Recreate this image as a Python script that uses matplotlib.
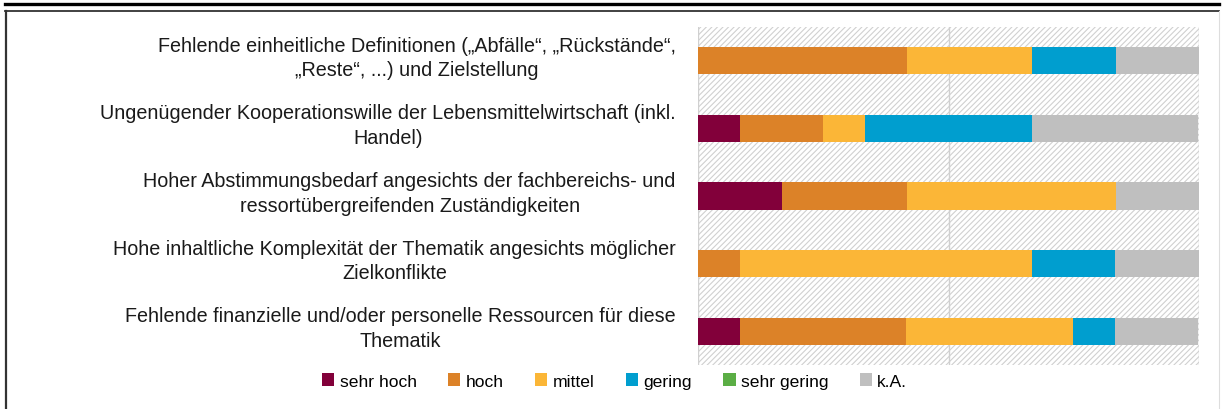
import matplotlib
matplotlib.use("Agg")
import matplotlib.pyplot as plt
import matplotlib.transforms as mtransforms
from matplotlib.lines import Line2D
from matplotlib.patches import Rectangle, Patch
import numpy as np

plt.rcParams["font.family"] = ["Liberation Sans", "DejaVu Sans"]
plt.rcParams["hatch.linewidth"] = 0.8

CATEGORIES = [
    "Fehlende einheitliche Definitionen (\u201eAbfälle\u201c, \u201eRückstände\u201c,\n\u201eReste\u201c, ...) und Zielstellung",
    "Ungenügender Kooperationswille der Lebensmittelwirtschaft (inkl.\nHandel)",
    "Hoher Abstimmungsbedarf angesichts der fachbereichs- und\nressortübergreifenden Zuständigkeiten",
    "Hohe inhaltliche Komplexität der Thematik angesichts möglicher\nZielkonflikte",
    "Fehlende finanzielle und/oder personelle Ressourcen für diese\nThematik",
]
SERIES = ["sehr hoch", "hoch", "mittel", "gering", "sehr gering", "k.A."]
COLORS = ["#82003A", "#DC8228", "#FBB637", "#009ECF", "#5BAE45", "#BFBFBF"]

# share of answers in percent, one list per series (same order as CATEGORIES)
sehr_hoch = [0.0, 8.3, 16.7, 0.0, 8.3]
hoch = [41.7, 16.7, 25.0, 8.3, 33.3]
mittel = [25.0, 8.3, 41.7, 58.3, 33.3]
gering = [16.7, 33.3, 0.0, 16.7, 8.3]
sehr_gering = [0.0, 0.0, 0.0, 0.0, 0.0]
k_a = [16.7, 33.3, 16.7, 16.7, 16.7]
VALUES = [sehr_hoch, hoch, mittel, gering, sehr_gering, k_a]

fig = plt.figure(figsize=(12.22, 4.10), dpi=100)
ax = fig.add_axes([698 / 1222, 44 / 410, 501 / 1222, 338 / 410])

# hatched background
ax.add_patch(Rectangle((0, 0), 1, 1, transform=ax.transAxes, facecolor="white",
                       edgecolor="#D0D0D0", hatch="//////", lw=0, zorder=0))
for gx in (0, 50, 100):
    ax.axvline(gx, color="#D0D0D0", lw=1.0, zorder=1)

y = np.arange(len(CATEGORIES))
left = np.zeros(len(CATEGORIES))
for name, vals, col in zip(SERIES, VALUES, COLORS):
    vals = np.array(vals)
    ax.barh(y, vals, left=left, height=0.4, color=col, edgecolor="none",
            label=name, zorder=2)
    left += vals

ax.set_xlim(0, 100)
ax.set_ylim(len(CATEGORIES) - 0.5, -0.5)
ax.set_xticks([])
ax.set_yticks(y)
ax.set_yticklabels(CATEGORIES, fontsize=14.2, multialignment="center",
                   linespacing=1.38, color="#1a1a1a")
ax.tick_params(axis="y", length=0, pad=16)
# labels sit a little above the bar centre
shift = mtransforms.ScaledTranslation(0, 8 / 100, fig.dpi_scale_trans)
for lbl in ax.get_yticklabels():
    lbl.set_transform(lbl.get_transform() + shift)
for s in ax.spines.values():
    s.set_visible(False)

handles = [Patch(facecolor=c, edgecolor="none") for c in COLORS]
fig.legend(handles, SERIES, loc="center", bbox_to_anchor=(0.503, 28 / 410),
           ncol=6, frameon=False, fontsize=12.6, handlelength=0.7,
           handleheight=0.7, handletextpad=0.3, columnspacing=1.8)

# frame lines
fig.add_artist(Line2D([5 / 1222, 1219 / 1222], [1 - 5 / 410, 1 - 5 / 410],
                      color="black", lw=2.4, transform=fig.transFigure))
fig.add_artist(Line2D([5 / 1222, 1219 / 1222], [1 - 12 / 410, 1 - 12 / 410],
                      color="#333333", lw=1.3, transform=fig.transFigure))
fig.add_artist(Line2D([6 / 1222, 6 / 1222], [0, 1 - 12 / 410],
                      color="#333333", lw=1.6, transform=fig.transFigure))
fig.add_artist(Line2D([1219 / 1222, 1219 / 1222], [0, 1 - 12 / 410],
                      color="#DDDDDD", lw=0.8, transform=fig.transFigure))

fig.savefig("out.png", dpi=100)
